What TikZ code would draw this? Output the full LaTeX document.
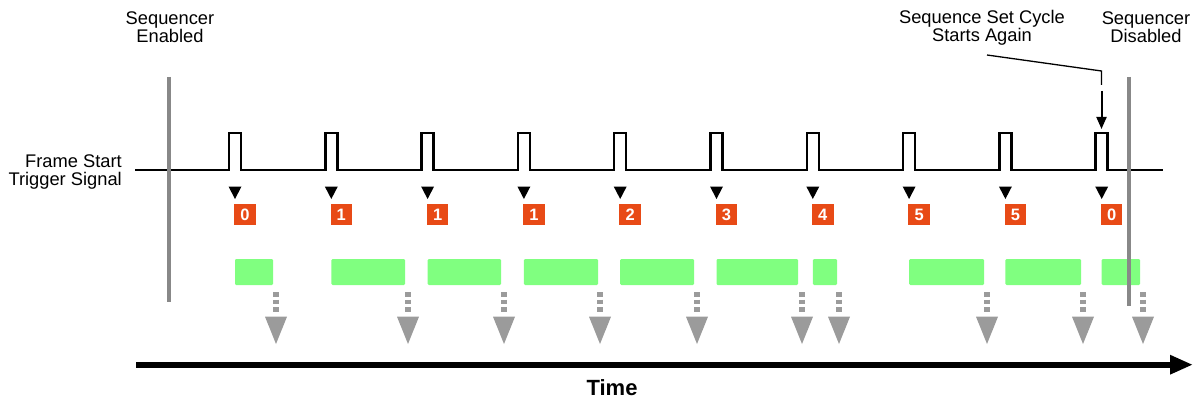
\documentclass[tikz,border=0pt]{standalone}
\usepackage{fontspec}
\setmainfont{Liberation Sans}
\usetikzlibrary{arrows.meta}
\definecolor{seqorange}{RGB}{232,74,22}
\definecolor{seqgreen}{RGB}{128,255,128}
\definecolor{arrgray}{RGB}{155,155,155}
\definecolor{linegray}{RGB}{136,136,136}
\begin{document}
\begin{tikzpicture}[x=1pt,y=-1pt,
  lbl/.style={font=\fontsize{18.3}{18}\selectfont, inner sep=0pt, align=center},
  signal/.style={line width=2.5pt, line join=miter},
  seqbox/.style={fill=seqorange, text=white, inner sep=0pt, minimum size=21.5pt,
    font=\fontsize{16.5}{16.5}\selectfont\bfseries},
  greenbar/.style={fill=seqgreen, rounded corners=1.2pt},
  dasharr/.style={draw=arrgray, line width=6pt, dash pattern=on 4.5pt off 3.2pt},
  enline/.style={draw=linegray, line width=3.5pt}]
\useasboundingbox (0,0) rectangle (1196,401);

% labels
\node[lbl, anchor=base] (en) at (170,43) {Sequencer\\Enabled};
\node[lbl, anchor=base] (dis) at (1146,43) {Sequencer\\Disabled};
\node[lbl, anchor=base] (ssc) at (982,42) {Sequence Set Cycle\\Starts Again};
\node[lbl, anchor=base east, align=right] (fst) at (122,185) {Frame Start\\Trigger Signal};
\node[inner sep=0pt, anchor=base, font=\fontsize{22}{22}\selectfont\bfseries] (time) at (612,395) {Time};

% trigger signal
\draw[signal] (135,170) foreach \i in {0,...,9} { -- ({229+96.3*\i},170) -- ++(0,-37) -- ++(12,0) -- ++(0,37) } -- (1163,170);

% triangles, boxes, bars, arrows
\foreach \i/\d/\e/\a in {0/0/273/276, 1/1/405/408, 2/1/501/504, 3/1/598/600, 4/2/694/697,
    5/3/798/802, 6/4/837/839, 7/5/984/987, 8/5/1081/1083, 9/0/1140/1143} {
  \pgfmathsetmacro{\c}{235+96.3*\i}
  \fill ({\c-6.5},186.5) -- ({\c+6.5},186.5) -- (\c,199) -- cycle;
  \node[seqbox] (b\i) at ({\c+10},214.5) {\d};
  \fill[greenbar] (\c,259) rectangle (\e,285);
  \draw[dasharr] (\a,292) -- (\a,313);
  \fill[arrgray] ({\a-11},316.7) -- ({\a+11},316.7) -- (\a,344) -- cycle;
}

% annotation
\coordinate (a1) at (987,55);
\coordinate (a2) at (1101.5,71);
\coordinate (a3) at (1101.5,85);
\coordinate (a4) at (1101.5,91);
\coordinate (a5) at (1101.5,129);
\draw[line width=1.3pt] (a1) -- (a2) -- (a3);
\draw[line width=2pt, -{Triangle[length=12pt,width=10pt]}] (a4) -- (a5);

% time axis
\coordinate (t0) at (136,364.7);
\coordinate (t1) at (1193,364.7);
\draw[line width=6pt, -{Triangle[length=23pt,width=18pt]}] (t0) -- (t1);

% sequencer enable/disable lines
\draw[enline] (169,77) -- (169,302);
\draw[enline] (1129,77) -- (1129,306);
\end{tikzpicture}
\end{document}
